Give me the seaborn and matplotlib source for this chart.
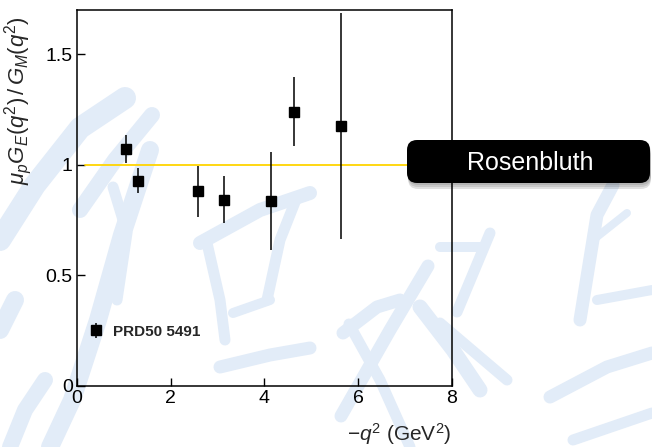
import numpy as np
import pandas as pd
import matplotlib
matplotlib.use("Agg")
import matplotlib.pyplot as plt
import seaborn as sns
from matplotlib.patches import FancyBboxPatch
from matplotlib.lines import Line2D

# Proton form-factor ratio, Rosenbluth separation (PRD 50, 5491)
q2 = [1.05, 1.30, 2.59, 3.14, 4.14, 4.64, 5.64]
ratio = [1.070, 0.928, 0.879, 0.842, 0.836, 1.240, 1.176]
ratio_err = [0.063, 0.055, 0.115, 0.107, 0.222, 0.155, 0.510]
series_label = "PRD50 5491"

# Scaling reference line (ratio = 1)
ref_x = [0.17, 8.0]
ref_y = [1.0, 1.0]

x_ticks = [0, 2, 4, 6, 8]
y_ticks = [0, 0.5, 1, 1.5]
y_tick_labels = ["0", "0.5", "1", "1.5"]

df = pd.DataFrame({"q2": q2, "ratio": ratio, "err": ratio_err})
ref = pd.DataFrame({"x": ref_x, "y": ref_y})

sns.set_theme(style="white")
plt.rcParams["font.family"] = ["Liberation Sans", "DejaVu Sans"]
plt.rcParams["mathtext.fontset"] = "custom"
plt.rcParams["mathtext.rm"] = "Liberation Sans"
plt.rcParams["mathtext.it"] = "Liberation Sans:italic"
plt.rcParams["mathtext.bf"] = "Liberation Sans:bold"

W, H = 652, 447
fig = plt.figure(figsize=(W / 100, H / 100), dpi=100)
fig.patch.set_facecolor("white")

# light calligraphy watermark behind the plot (pixel coords, y down)
strokes = [
    ([(0, 240), (35, 185), (80, 128), (125, 98)], 22),
    ([(80, 210), (115, 160), (152, 115)], 16),
    ([(150, 150), (122, 235), (98, 320), (72, 400), (50, 447)], 18),
    ([(113, 187), (127, 233), (117, 300)], 11),
    ([(0, 330), (15, 300)], 18),
    ([(10, 447), (25, 410), (45, 380)], 16),
    ([(200, 243), (260, 210), (310, 193)], 14),
    ([(207, 243), (220, 300), (225, 340)], 11),
    ([(297, 197), (280, 240), (267, 300)], 11),
    ([(220, 367), (270, 355), (310, 348)], 13),
    ([(233, 313), (270, 300)], 10),
    ([(343, 333), (377, 307), (400, 300)], 13),
    ([(420, 307), (453, 350), (480, 390)], 15),
    ([(428, 266), (390, 330), (341, 416)], 13),
    ([(349, 324), (380, 380), (410, 447)], 11),
    ([(490, 233), (457, 312)], 11),
    ([(613, 185), (597, 215), (580, 320)], 13),
    ([(593, 240), (627, 213)], 8),
    ([(597, 300), (652, 290)], 10),
    ([(550, 397), (607, 367), (652, 353)], 13),
    ([(440, 247), (480, 247)], 10),
    ([(440, 323), (507, 380)], 11),
    ([(573, 440), (652, 413)], 11),
]
for pts, w in strokes:
    xs = [p[0] / W for p in pts]
    ys = [1 - p[1] / H for p in pts]
    fig.add_artist(Line2D(xs, ys, transform=fig.transFigure, color="#e2ecf8",
                          lw=w * 0.72, solid_capstyle="round",
                          solid_joinstyle="round", zorder=0))

ax = fig.add_axes([77 / W, 1 - 385.7 / H, 374.7 / W, 375.7 / H])
ax.set_facecolor("none")

sns.lineplot(data=ref, x="x", y="y", ax=ax, color="#ffd400", lw=1.3, zorder=2)

ax.errorbar(df["q2"], df["ratio"], yerr=df["err"], fmt="s", color="black",
            ms=7.2, elinewidth=1.1, capsize=0, label=series_label, zorder=3)

ax.set_xlim(0, 8)
ax.set_ylim(0, 1.7)
ax.set_xticks(x_ticks)
ax.set_xticklabels([str(t) for t in x_ticks])
ax.set_yticks(y_ticks)
ax.set_yticklabels(y_tick_labels)
ax.tick_params(axis="both", direction="in", length=6, width=1.0,
               labelsize=14, colors="black", pad=3,
               bottom=True, left=True, top=False, right=False)
for s in ax.spines.values():
    s.set_visible(True)
    s.set_color("black")
    s.set_linewidth(1.1)

ax.set_xlabel(r"$-q^2$ (GeV$^2$)", fontsize=15, ha="right")
ax.xaxis.set_label_coords(1.0, -0.093)
ax.set_ylabel(r"$\mu_p G_E(q^2)\,/\,G_M(q^2)$", fontsize=16)
ax.yaxis.set_label_coords(-0.115, 0.76)

leg = ax.legend(loc="center left", bbox_to_anchor=(0.035, 0.1437),
                frameon=False, borderpad=0, borderaxespad=0,
                handlelength=0.8, handletextpad=0.7,
                prop={"weight": "bold", "size": 11})

# "Rosenbluth" tag with soft drop shadow
bx, by, bw, bh = 4.07, (H - 183) / 100, 2.43, 0.43
for i, a in enumerate([0.10, 0.10, 0.12]):
    off = 0.02 + 0.02 * i
    fig.add_artist(FancyBboxPatch((bx + 0.01, by - off), bw, bh,
                                  boxstyle="round,pad=0,rounding_size=0.1",
                                  transform=fig.dpi_scale_trans,
                                  facecolor="black", edgecolor="none",
                                  alpha=a, zorder=9))
fig.add_artist(FancyBboxPatch((bx, by), bw, bh,
                              boxstyle="round,pad=0,rounding_size=0.1",
                              transform=fig.dpi_scale_trans,
                              facecolor="black", edgecolor="none", zorder=10))
fig.text(5.30, (H - 163) / 100, "Rosenbluth", transform=fig.dpi_scale_trans,
         color="white", fontsize=18, ha="center", va="center", zorder=11)

fig.savefig("out.png", dpi=100)
